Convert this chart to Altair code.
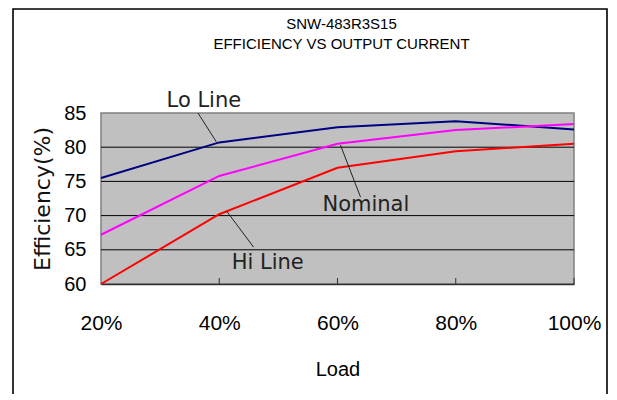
import altair as alt
import pandas as pd

loads = [20, 40, 60, 80, 100]
lo_line = [75.5, 80.7, 82.9, 83.8, 82.6]
nominal = [67.2, 75.8, 80.5, 82.5, 83.4]
hi_line = [60.0, 70.2, 77.0, 79.4, 80.5]
series_names = ["Lo Line", "Nominal", "Hi Line"]
series_colors = ["#000080", "#FF00FF", "#FF0000"]

grid_values = [65, 70, 75, 80]
y_ticks = [60, 65, 70, 75, 80, 85]
inner_ticks = [40, 60, 80, 100]

label_x = [37.4, 64.8, 48.2]
label_y = [86.8, 71.5, 63.1]
leader_x1 = [36.4, 60.5, 41.3]
leader_y1 = [85.0, 80.3, 70.6]
leader_x2 = [39.5, 63.9, 45.8]
leader_y2 = [80.8, 72.7, 65.4]

rows = []
for name, vals in zip(series_names, [lo_line, nominal, hi_line]):
    for l, v in zip(loads, vals):
        rows.append({"load": l, "eff": v, "series": name})
df = pd.DataFrame(rows)

xscale = alt.Scale(domain=[20, 100], nice=False, zero=False)
yscale = alt.Scale(domain=[60, 85], nice=False, zero=False)

SANS = "Liberation Sans"

x_axis = alt.Axis(
    values=loads, labelExpr="datum.value + '%'", grid=False, ticks=False,
    labelFlush=False, labelOverlap=False,
    labelFont=SANS, labelFontSize=21, labelColor="#000", labelPadding=28,
    domainColor="#303030", domainWidth=1.5,
    title="Load", titleFont=SANS, titleFontSize=20, titleFontWeight="normal",
    titleColor="#000", titleBaseline="alphabetic", titleY=91,
)
y_axis = alt.Axis(
    values=y_ticks, grid=False, ticks=False, domain=False,
    labelFont=SANS, labelFontSize=20, labelColor="#000", labelPadding=15,
    labelFlush=False, labelOverlap=False,
    title="Efficiency(%)", titleFont="DejaVu Sans", titleFontSize=22,
    titleFontWeight="normal", titleColor="#111", titleX=-59, titleY=85.5,
    titleAlign="center", titleBaseline="middle", titleAngle=-90,
)

frame = alt.Chart(pd.DataFrame({"k": [0]})).mark_rect(
    fill="transparent", stroke="#000", strokeWidth=1.6
).encode(x=alt.value(-88), x2=alt.value(506), y=alt.value(-104), y2=alt.value(300))

grid = alt.Chart(pd.DataFrame({"g": grid_values})).mark_rule(
    color="#000", strokeWidth=1
).encode(y=alt.Y("g:Q", scale=yscale, axis=y_axis))

ticks = alt.Chart(pd.DataFrame({"t": inner_ticks})).mark_rule(
    color="#303030", strokeWidth=1
).encode(x=alt.X("t:Q", scale=xscale, axis=x_axis), y=alt.value(165), y2=alt.value(171))

lines = alt.Chart(df).mark_line(strokeWidth=2).encode(
    x=alt.X("load:Q", scale=xscale, axis=x_axis),
    y=alt.Y("eff:Q", scale=yscale, axis=y_axis),
    color=alt.Color("series:N", scale=alt.Scale(domain=series_names, range=series_colors), legend=None),
)

leaders_df = pd.DataFrame({"x1": leader_x1, "y1": leader_y1, "x2": leader_x2, "y2": leader_y2})
leaders = alt.Chart(leaders_df).mark_rule(color="#222", strokeWidth=1).encode(
    x=alt.X("x1:Q", scale=xscale, axis=x_axis), y=alt.Y("y1:Q", scale=yscale, axis=y_axis),
    x2="x2:Q", y2="y2:Q",
)

labels_df = pd.DataFrame({"x": label_x, "y": label_y, "t": series_names})
labels = alt.Chart(labels_df).mark_text(
    font="DejaVu Sans", fontSize=21, color="#222", align="center", baseline="middle"
).encode(x=alt.X("x:Q", scale=xscale, axis=x_axis), y=alt.Y("y:Q", scale=yscale, axis=y_axis), text="t:N")

chart = alt.layer(frame, grid, ticks, lines, leaders, labels).properties(
    width=473, height=171,
    autosize=alt.AutoSizeParams(type="none"),
    padding={"left": 93, "top": 105, "right": 34, "bottom": 110},
    background="#ffffff",
    title=alt.TitleParams(
        text=["SNW-483R3S15", "EFFICIENCY VS OUTPUT CURRENT"],
        font=SANS, fontSize=15, fontWeight="normal", color="#000",
        lineHeight=20.5, anchor="middle", offset=0, dy=44, dx=4,
    ),
).configure_view(
    fill="#C0C0C0", stroke="#808080", strokeWidth=1.5
)

chart.save("out.html", embed_options={"renderer": "svg", "actions": False})
